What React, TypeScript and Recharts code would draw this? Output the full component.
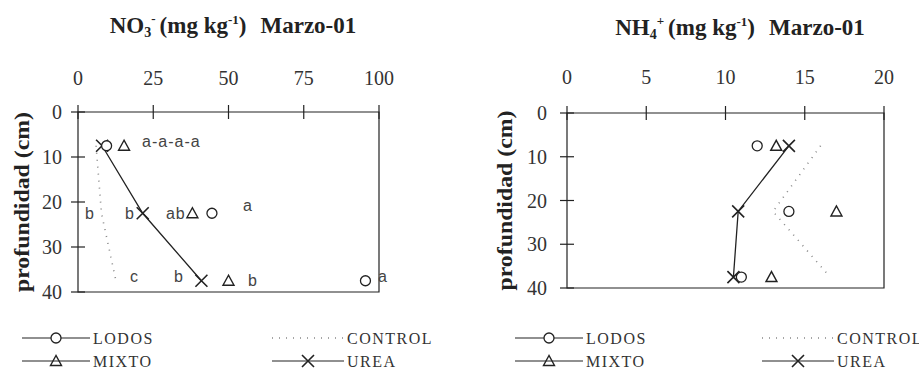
import { ScatterChart, Scatter, XAxis, YAxis, ReferenceArea, Legend } from 'recharts';

// depth of each sampling layer (cm)
const depths = [7.5, 22.5, 37.5];
const depthTicks = [0, 10, 20, 30, 40];

// NO3- panel
const no3Ticks = [0, 25, 50, 75, 100];
const no3Lodos = [9.5, 44.5, 95.5];
const no3Control = [6, 7.8, 12.6];
const no3Mixto = [15.3, 38, 50];
const no3Urea = [8, 21.5, 41];
const no3Letters = [
  { value: 21.3, depth: 6.6, text: 'a-a-a-a' },
  { value: 2.3, depth: 22.5, text: 'b' },
  { value: 15.6, depth: 22.5, text: 'b' },
  { value: 29.2, depth: 22.5, text: 'ab' },
  { value: 54.8, depth: 20.7, text: 'a' },
  { value: 17.3, depth: 36.6, text: 'c' },
  { value: 31.9, depth: 36.6, text: 'b' },
  { value: 56.5, depth: 37.5, text: 'b' },
  { value: 99.7, depth: 36.6, text: 'a' },
];

// NH4+ panel
const nh4Ticks = [0, 5, 10, 15, 20];
const nh4Lodos = [12.0, 14.0, 11.0];
const nh4Control = [16.0, 13.0, 16.6];
const nh4Mixto = [13.2, 17.0, 12.9];
const nh4Urea = [14.0, 10.8, 10.5];

const legendNames = ['LODOS', 'CONTROL', 'MIXTO', 'UREA'];

const INK = '#222';
const serif = { fontFamily: 'Liberation Serif' };
const sans = { fontFamily: 'Liberation Sans' };

const toPoints = (vals: number[]) => vals.map((v, i) => ({ value: v, depth: depths[i] }));

const Circle = (p: any) => <circle cx={p.cx} cy={p.cy} r={5} fill="#fff" stroke={INK} strokeWidth={1.3} />;
const Triangle = (p: any) => (
  <polygon
    points={`${p.cx},${p.cy - 5.5} ${p.cx - 5.5},${p.cy + 4.5} ${p.cx + 5.5},${p.cy + 4.5}`}
    fill="none"
    stroke={INK}
    strokeWidth={1.4}
  />
);
const Cross = (p: any) => (
  <path
    d={`M${p.cx - 6},${p.cy - 6}L${p.cx + 6},${p.cy + 6}M${p.cx + 6},${p.cy - 6}L${p.cx - 6},${p.cy + 6}`}
    stroke={INK}
    strokeWidth={1.6}
  />
);
const NoMark = () => <g />;
const Letter = (p: any) => (
  <text x={p.cx} y={p.cy} dominantBaseline="central" style={sans} fontSize={16} letterSpacing={1} fill="#444">
    {p.payload.text}
  </text>
);

const markers: Record<string, any> = { LODOS: Circle, MIXTO: Triangle, UREA: Cross, CONTROL: NoMark };

const TopTick = (p: any) => (
  <g>
    <line x1={p.x} x2={p.x} y1={p.y - 7} y2={p.y + 7} stroke={INK} strokeWidth={1.2} />
    <text x={p.x} y={p.y - p.gap} textAnchor="middle" dominantBaseline="central" style={serif} fontSize={20} fill="#333">
      {p.payload.value}
    </text>
  </g>
);

const LeftTick = (p: any) => (
  <g>
    <line x1={p.x - 7} x2={p.x + 7} y1={p.y} y2={p.y} stroke={INK} strokeWidth={1.2} />
    <text x={p.x - p.gap} y={p.y} textAnchor="end" dominantBaseline="central" style={serif} fontSize={20} fill="#333">
      {p.payload.value}
    </text>
  </g>
);

function LegendBox({ cols, lens }: { cols: number[]; lens: number[] }) {
  const rows = [20, 43];
  return (
    <svg width={460} height={60}>
      {legendNames.map((name, i) => {
        const c = i % 2;
        const y = rows[Math.floor(i / 2)];
        const x0 = cols[c];
        const x1 = x0 + lens[c];
        const Mark = markers[name];
        const dotted = name === 'CONTROL';
        return (
          <g key={name}>
            <line
              x1={x0}
              x2={x1}
              y1={y}
              y2={y}
              stroke={dotted ? '#888' : INK}
              strokeWidth={dotted ? 1.5 : 1.2}
              strokeDasharray={dotted ? '1 6' : undefined}
            />
            <Mark cx={(x0 + x1) / 2} cy={y} />
            <text x={x1 + 3} y={y} dominantBaseline="central" style={serif} fontSize={16} letterSpacing={1.5} fill="#333">
              {name}
            </text>
          </g>
        );
      })}
    </svg>
  );
}

type PanelProps = {
  width: number;
  margin: { top: number; left: number; right: number; bottom: number };
  xTicks: number[];
  series: { name: string; vals: number[] }[];
  letters?: typeof no3Letters;
  xGap: number;
  yGap: number;
  yLabelX: number;
  legendCols: number[];
};

function Panel({ width, margin, xTicks, series, letters, xGap, yGap, yLabelX, legendCols }: PanelProps) {
  const xMax = xTicks[xTicks.length - 1];
  return (
    <ScatterChart width={width} height={379} margin={margin}>
      <ReferenceArea x1={0} x2={xMax} y1={0} y2={40} fill="none" stroke={INK} strokeWidth={1.2} />
      <XAxis
        type="number"
        dataKey="value"
        orientation="top"
        domain={[0, xMax]}
        ticks={xTicks}
        interval={0}
        height={30}
        axisLine={false}
        tickLine={false}
        tickSize={0}
        tickMargin={0}
        tick={(p: any) => <TopTick {...p} gap={xGap} />}
      />
      <YAxis
        type="number"
        dataKey="depth"
        domain={[0, 40]}
        reversed
        ticks={depthTicks}
        interval={0}
        width={40}
        axisLine={false}
        tickLine={false}
        tickSize={0}
        tickMargin={0}
        tick={(p: any) => <LeftTick {...p} gap={yGap} />}
        label={{
          content: (p: any) => {
            const vb = p.viewBox;
            const cy = vb.y + vb.height / 2;
            return (
              <text
                x={yLabelX}
                y={cy}
                transform={`rotate(-90 ${yLabelX} ${cy})`}
                textAnchor="middle"
                dominantBaseline="central"
                style={serif}
                fontWeight="bold"
                fontSize={21}
                textLength={180}
                lengthAdjust="spacingAndGlyphs"
                fill="#222"
              >
                profundidad (cm)
              </text>
            );
          },
        }}
      />
      {series.map((s) => {
        const dotted = s.name === 'CONTROL';
        const lined = dotted || s.name === 'UREA';
        return (
          <Scatter
            key={s.name}
            name={s.name}
            data={toPoints(s.vals)}
            shape={markers[s.name]}
            line={
              lined
                ? dotted
                  ? { stroke: '#888', strokeWidth: 1.6, strokeDasharray: '1 6' }
                  : { stroke: INK, strokeWidth: 1.3 }
                : false
            }
            lineType="joint"
            isAnimationActive={false}
          />
        );
      })}
      {letters && <Scatter name="letters" data={letters} shape={Letter} isAnimationActive={false} />}
      <Legend
        verticalAlign="middle"
        align="center"
        layout="horizontal"
        wrapperStyle={{ left: 0, top: 318, width: 460, height: 60 }}
        content={() => <LegendBox cols={legendCols} lens={[68, 72]} />}
      />
    </ScatterChart>
  );
}

export default function App() {
  const no3Series = [
    { name: 'CONTROL', vals: no3Control },
    { name: 'UREA', vals: no3Urea },
    { name: 'MIXTO', vals: no3Mixto },
    { name: 'LODOS', vals: no3Lodos },
  ];
  const nh4Series = [
    { name: 'CONTROL', vals: nh4Control },
    { name: 'UREA', vals: nh4Urea },
    { name: 'MIXTO', vals: nh4Mixto },
    { name: 'LODOS', vals: nh4Lodos },
  ];
  return (
    <div style={{ position: 'absolute', left: 0, top: 0, width: 919, height: 379, background: '#fff' }}>
      <div style={{ position: 'absolute', left: 0, top: 0 }}>
        <Panel
          width={460}
          margin={{ top: 82, left: 38, right: 81, bottom: 87 }}
          xTicks={no3Ticks}
          series={no3Series}
          letters={no3Letters}
          xGap={34}
          yGap={16}
          yLabelX={22}
          legendCols={[22, 272]}
        />
      </div>
      <div style={{ position: 'absolute', left: 460, top: 0 }}>
        <Panel
          width={459}
          margin={{ top: 83, left: 67, right: 35, bottom: 91 }}
          xTicks={nh4Ticks}
          series={nh4Series}
          xGap={36}
          yGap={20}
          yLabelX={45}
          legendCols={[55, 302]}
        />
      </div>
      <svg width={919} height={60} style={{ position: 'absolute', left: 0, top: 0, pointerEvents: 'none' }}>
        <text x={233} y={33} textAnchor="middle" style={serif} fontWeight="bold" fontSize={23} fill="#222">
          NO
          <tspan fontSize={14} dy={4}>3</tspan>
          <tspan fontSize={13} dy={-14}>-</tspan>
          <tspan dy={10} dx={4}>(mg kg</tspan>
          <tspan fontSize={13} dy={-9}>-1</tspan>
          <tspan dy={9}>)</tspan>
          <tspan dx={14}>Marzo-01</tspan>
        </text>
        <text x={740} y={35} textAnchor="middle" style={serif} fontWeight="bold" fontSize={23} fill="#222">
          NH
          <tspan fontSize={14} dy={4}>4</tspan>
          <tspan fontSize={13} dy={-14}>+</tspan>
          <tspan dy={10} dx={4}>(mg kg</tspan>
          <tspan fontSize={13} dy={-9}>-1</tspan>
          <tspan dy={9}>)</tspan>
          <tspan dx={14}>Marzo-01</tspan>
        </text>
      </svg>
    </div>
  );
}
